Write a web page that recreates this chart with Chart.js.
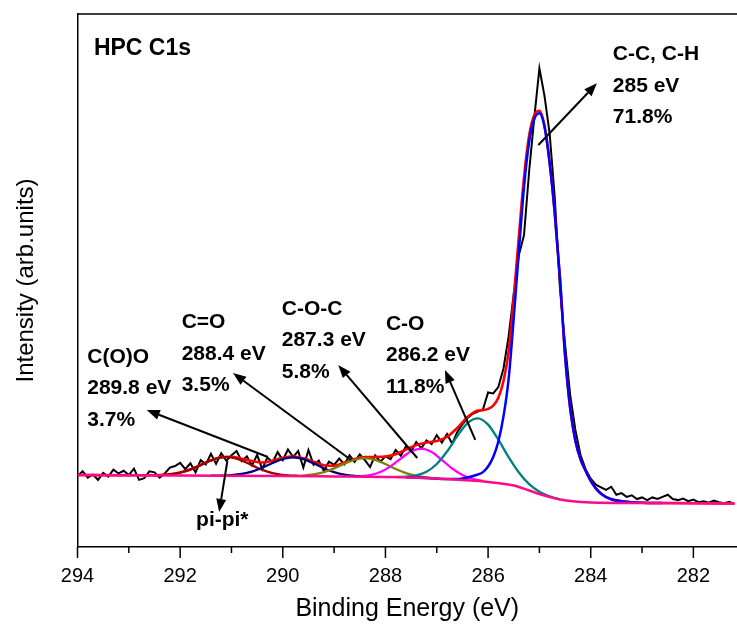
<!DOCTYPE html>
<html>
<head>
<meta charset="utf-8">
<script src="https://cdn.jsdelivr.net/npm/chart.js@4.4.1/dist/chart.umd.min.js"></script>
<style>
  html, body { margin: 0; padding: 0; background: #fff; overflow: hidden; }
  canvas { display: block; }
</style>
</head>
<body>
<canvas id="xps" width="737" height="626"></canvas>
<script>
// raw C1s spectrum (binding energy in eV, intensity in arb. units)
const rawEnergy = [
  294.0, 293.9, 293.8, 293.7, 293.6, 293.5, 293.4, 293.3, 293.2, 293.1,
  293.0, 292.9, 292.8, 292.7, 292.6, 292.5, 292.4, 292.3, 292.2, 292.1,
  292.0, 291.9, 291.8, 291.7, 291.6, 291.5, 291.4, 291.3, 291.2, 291.1,
  291.0, 290.9, 290.8, 290.7, 290.6, 290.5, 290.4, 290.3, 290.2, 290.1,
  290.0, 289.9, 289.8, 289.7, 289.6, 289.5, 289.4, 289.3, 289.2, 289.1,
  289.0, 288.9, 288.8, 288.7, 288.6, 288.5, 288.4, 288.3, 288.2, 288.1,
  288.0, 287.9, 287.8, 287.7, 287.6, 287.5, 287.4, 287.3, 287.2, 287.1,
  287.0, 286.9, 286.8, 286.7, 286.6, 286.5, 286.4, 286.3, 286.2, 286.1,
  286.0, 285.9, 285.8, 285.7, 285.6, 285.5, 285.4, 285.3, 285.2, 285.1,
  285.0, 284.9, 284.8, 284.7, 284.6, 284.5, 284.4, 284.3, 284.2, 284.1,
  284.0, 283.9, 283.8, 283.7, 283.6, 283.5, 283.4, 283.3, 283.2, 283.1,
  283.0, 282.9, 282.8, 282.7, 282.6, 282.5, 282.4, 282.3, 282.2, 282.1,
  282.0, 281.9, 281.8, 281.7, 281.6, 281.5, 281.4, 281.3, 281.2
];
const rawIntensity = [
  13.3, 14.2, 13.0, 13.6, 12.6, 13.9, 13.2, 14.5, 13.8, 14.3,
  13.5, 14.7, 12.6, 12.9, 14.2, 14.0, 13.0, 13.8, 14.9, 15.2,
  15.8, 14.6, 15.7, 14.0, 16.3, 15.5, 17.5, 15.6, 17.6, 16.2,
  17.2, 18.0, 16.1, 17.0, 15.3, 17.3, 14.6, 16.8, 15.9, 17.8,
  16.3, 18.3, 16.9, 18.0, 14.9, 18.2, 15.4, 16.2, 14.3, 16.0,
  15.4, 16.6, 15.5, 17.2, 16.0, 17.4, 16.3, 15.0, 17.2, 16.0,
  17.0, 16.5, 18.2, 17.1, 18.9, 17.9, 19.7, 18.5, 20.0, 19.3,
  21.0, 19.6, 21.2, 19.4, 21.6, 23.0, 24.2, 25.0, 25.4, 25.8,
  29.0, 28.8, 30.0, 33.5, 39.5, 47.5, 54.8, 58.5, 70.5, 80.5,
  89.8, 84.6, 77.5, 65.5, 48.5, 38.0, 28.5, 22.0, 17.3, 14.6,
  12.8, 11.7, 11.2, 10.7, 11.3, 9.8, 10.1, 9.4, 9.7, 9.0,
  9.3, 8.8, 9.3, 9.0, 9.4, 9.8, 9.0, 8.8, 9.1, 8.6,
  8.9, 8.4, 8.6, 8.3, 8.7, 8.4, 8.2, 8.5, 8.1
];

// Shirley background
const bgEnergy = [294.0, 292.0, 290.0, 289.0, 288.0, 287.5, 287.0, 286.5, 286.0, 285.5, 285.2, 285.0, 284.8, 284.6, 284.4, 284.0, 283.0, 281.2];
const bgIntensity = [13.51, 13.41, 13.32, 13.23, 13.13, 13.04, 12.85, 12.57, 12.2, 11.54, 10.6, 9.94, 9.38, 8.91, 8.63, 8.35, 8.26, 8.16];

// fitted envelope
const envEnergy = [
  294.0, 293.0, 292.6, 292.4, 292.2, 292.0, 291.8, 291.6, 291.4, 291.2,
  291.0, 290.8, 290.6, 290.4, 290.2, 290.0, 289.8, 289.6, 289.4, 289.2,
  289.0, 288.8, 288.6, 288.4, 288.2, 288.0, 287.8, 287.6, 287.4, 287.2,
  287.0, 286.8, 286.6, 286.4, 286.2, 286.1, 286.0, 285.9, 285.8, 285.7,
  285.6, 285.5, 285.4, 285.3, 285.2, 285.1, 285.0, 284.9, 284.8, 284.7,
  284.6, 284.5, 284.4, 284.3, 284.2, 284.1, 284.0, 283.9, 283.8, 283.6,
  283.4, 283.2, 283.0, 282.6, 282.0, 281.2
];
const envIntensity = [
  13.51, 13.46, 13.45, 13.5, 13.64, 13.96, 14.55, 15.38, 16.26, 16.85,
  16.93, 16.56, 16.13, 15.85, 16.2, 16.73, 16.95, 16.63, 16.0, 15.35,
  15.25, 15.85, 16.5, 16.88, 16.89, 16.98, 17.42, 18.28, 19.14, 19.59,
  19.9, 20.66, 22.34, 24.39, 25.59, 25.68, 25.91, 26.51, 27.98, 31.16,
  36.67, 46.84, 58.23, 69.34, 77.19, 81.04, 81.84, 79.05, 72.13, 62.57,
  50.54, 36.0, 26.0, 20.0, 16.5, 14.3, 12.4, 11.0, 10.0, 8.95,
  8.6, 8.4, 8.3, 8.25, 8.2, 8.16
];

// components
const piEnergy = [292.5, 292.3, 292.1, 291.9, 291.7, 291.5, 291.3, 291.1, 290.9, 290.7, 290.5, 290.3, 290.1, 289.9, 289.7];
const piIntensity = [13.45, 13.54, 13.75, 14.22, 14.93, 15.83, 16.59, 16.9, 16.57, 15.8, 14.88, 14.15, 13.68, 13.45, 13.35];

const coooEnergy = [291.4, 291.2, 291.0, 290.8, 290.6, 290.4, 290.2, 290.0, 289.8, 289.6, 289.4, 289.2, 289.0, 288.8, 288.6, 288.4];
const coooIntensity = [13.38, 13.41, 13.5, 13.71, 14.16, 14.87, 15.76, 16.51, 16.8, 16.47, 15.7, 14.78, 14.04, 13.56, 13.32, 13.21];

const coEnergy2 = [289.8, 289.6, 289.4, 289.2, 289.0, 288.8, 288.6, 288.4, 288.2, 288.0, 287.8, 287.6, 287.4, 287.2, 287.0];
const coIntensity2 = [13.34, 13.41, 13.62, 14.06, 14.76, 15.64, 16.38, 16.67, 16.34, 15.56, 14.63, 13.87, 13.35, 13.05, 12.89];

const cocEnergy = [288.5, 288.3, 288.1, 287.9, 287.7, 287.5, 287.3, 287.1, 286.9, 286.7, 286.5, 286.3, 286.1];
const cocIntensity = [13.25, 13.49, 14.07, 15.13, 16.59, 17.96, 18.47, 17.82, 16.33, 14.73, 13.51, 12.77, 12.37];

const coEnergy = [287.8, 287.6, 287.4, 287.2, 287.0, 286.8, 286.6, 286.4, 286.2, 286.0, 285.8, 285.6, 285.4, 285.2, 285.0, 284.8, 284.6];
const coIntensity = [13.14, 13.19, 13.44, 14.11, 15.58, 17.91, 20.81, 23.26, 24.15, 22.96, 20.13, 16.87, 13.98, 11.79, 10.38, 9.51, 8.95];

const ccEnergy = [
  287.6, 287.2, 286.8, 286.6, 286.4, 286.2, 286.1, 286.0, 285.9, 285.8,
  285.7, 285.6, 285.5, 285.4, 285.3, 285.2, 285.1, 285.0, 284.9, 284.8,
  284.7, 284.6, 284.5, 284.4, 284.3, 284.2, 284.1, 284.0, 283.9, 283.8,
  283.6, 283.4, 283.2, 283.0, 282.6
];
const ccIntensity = [
  13.1, 12.95, 12.76, 12.75, 13.05, 13.6, 14.05, 15.1, 16.9, 19.8,
  24.5, 31.5, 43.0, 55.5, 67.5, 76.0, 80.3, 81.4, 78.8, 72.0,
  62.5, 50.5, 36.0, 26.0, 20.0, 16.5, 14.3, 12.4, 11.0, 10.0,
  8.95, 8.6, 8.4, 8.3, 8.25
];

// x axis
const xMin = 281.15;
const xMax = 294;

// peak labels (anchor in data units, first line)
const labelLines = [
  ["HPC C1s"],
  ["C(O)O", "289.8 eV", "3.7%"],
  ["C=O", "288.4 eV", "3.5%"],
  ["C-O-C", "287.3 eV", "5.8%"],
  ["C-O", "286.2 eV", "11.8%"],
  ["C-C, C-H", "285 eV", "71.8%"],
  ["pi-pi*"]
];
const labelEnergy = [293.68, 293.81, 291.97, 290.02, 287.99, 283.57, 291.69];
const labelIntensity = [93.49, 35.65, 42.12, 44.65, 41.84, 92.4, 5.07];

// arrows from peak to label
const arrowFromE = [285.02, 290.29, 288.67, 287.38, 286.25, 291.08];
const arrowFromI = [75.42, 16.89, 16.32, 16.7, 20.08, 16.14];
const arrowToE = [283.88, 292.65, 290.97, 288.92, 286.84, 291.24];
const arrowToI = [87.0, 25.7, 32.65, 34.15, 33.2, 6.57];

const FONT = "'Liberation Sans', Arial, sans-serif";

function pts(xs, ys) {
  return xs.map((x, i) => ({x: x, y: ys[i]}));
}

function curve(label, xs, ys, color, order, width) {
  return {
    label: label,
    data: pts(xs, ys),
    borderColor: color,
    borderWidth: width,
    pointRadius: 0,
    fill: false,
    cubicInterpolationMode: 'monotone',
    order: order
  };
}

const decor = {
  id: 'decor',
  afterDraw(chart) {
    const ctx = chart.ctx;
    const xs = chart.scales.x;
    const ys = chart.scales.y;
    const a = chart.chartArea;
    ctx.save();
    ctx.strokeStyle = '#000';
    ctx.fillStyle = '#000';
    ctx.lineWidth = 1.5;

    // top of the frame
    ctx.beginPath();
    ctx.moveTo(a.left, a.top);
    ctx.lineTo(a.right, a.top);
    ctx.stroke();

    // major / minor tick marks
    xs.ticks.forEach(t => {
      const px = xs.getPixelForValue(t.value);
      const len = t.value % 2 === 0 ? 11 : 6;
      ctx.beginPath();
      ctx.moveTo(px, a.bottom);
      ctx.lineTo(px, a.bottom + len);
      ctx.stroke();
    });

    // arrows
    ctx.lineWidth = 2;
    for (let i = 0; i < arrowFromE.length; i++) {
      const x0 = xs.getPixelForValue(arrowFromE[i]);
      const y0 = ys.getPixelForValue(arrowFromI[i]);
      const x1 = xs.getPixelForValue(arrowToE[i]);
      const y1 = ys.getPixelForValue(arrowToI[i]);
      const ang = Math.atan2(y1 - y0, x1 - x0);
      const hl = 13, hw = 5;
      const bx = x1 - hl * Math.cos(ang);
      const by = y1 - hl * Math.sin(ang);
      ctx.beginPath();
      ctx.moveTo(x0, y0);
      ctx.lineTo(bx, by);
      ctx.stroke();
      ctx.beginPath();
      ctx.moveTo(x1, y1);
      ctx.lineTo(bx + hw * Math.sin(ang), by - hw * Math.cos(ang));
      ctx.lineTo(bx - hw * Math.sin(ang), by + hw * Math.cos(ang));
      ctx.closePath();
      ctx.fill();
    }

    // labels
    ctx.textAlign = 'left';
    ctx.textBaseline = 'middle';
    for (let i = 0; i < labelLines.length; i++) {
      const px = xs.getPixelForValue(labelEnergy[i]);
      const py = ys.getPixelForValue(labelIntensity[i]);
      const size = i === 0 ? 23 : 21;
      ctx.font = 'bold ' + size + 'px ' + FONT;
      labelLines[i].forEach((line, j) => {
        ctx.fillText(line, px, py + j * 31.5);
      });
    }
    ctx.restore();
  }
};

const ctx = document.getElementById('xps').getContext('2d');

new Chart(ctx, {
  type: 'line',
  data: {
    datasets: [
      curve('Background', bgEnergy, bgIntensity, '#ff0a8c', 0, 2.5),
      curve('C-C, C-H', ccEnergy, ccIntensity, '#0000ff', 1, 2.5),
      curve('C-O', coEnergy, coIntensity, '#008080', 1, 2.3),
      curve('C-O-C', cocEnergy, cocIntensity, '#ff00ff', 1, 2.3),
      curve('C=O', coEnergy2, coIntensity2, '#808000', 1, 2.3),
      curve('C(O)O', coooEnergy, coooIntensity, '#000080', 1, 2.3),
      curve('pi-pi*', piEnergy, piIntensity, '#990000', 1, 2.3),
      curve('Envelope', envEnergy, envIntensity, '#ff0000', 2, 2.6),
      {
        label: 'Raw',
        data: pts(rawEnergy, rawIntensity),
        borderColor: '#000',
        borderWidth: 2,
        pointRadius: 0,
        fill: false,
        tension: 0,
        order: 3
      }
    ]
  },
  options: {
    responsive: false,
    animation: false,
    layout: {padding: {top: 14, right: 0, left: 0, bottom: 0}},
    plugins: {
      legend: {display: false},
      tooltip: {enabled: false}
    },
    scales: {
      x: {
        type: 'linear',
        reverse: true,
        min: xMin,
        max: xMax,
        // tick marks are drawn by the decor plugin; the grid only reserves room
        grid: {display: true, drawOnChartArea: false, drawTicks: true, tickLength: 17, tickColor: 'rgba(0,0,0,0)'},
        border: {display: true, color: '#000', width: 1.5},
        ticks: {
          stepSize: 1,
          includeBounds: false,
          autoSkip: false,
          maxRotation: 0,
          padding: 0,
          color: '#000',
          font: {family: FONT, size: 20},
          callback: v => (v % 2 === 0 ? String(v) : '')
        },
        title: {
          display: true,
          text: 'Binding Energy (eV)',
          color: '#000',
          font: {family: FONT, size: 25},
          padding: {top: 0, bottom: 2}
        },
        afterFit: s => { s.height = 79; }
      },
      y: {
        min: 0,
        max: 100,
        grid: {display: false},
        border: {display: true, color: '#000', width: 1.5},
        ticks: {display: false},
        title: {
          display: true,
          text: 'Intensity (arb.units)',
          color: '#000',
          font: {family: FONT, size: 24},
          padding: {top: 12, bottom: 0}
        },
        afterFit: s => { s.width = 77.5; }
      }
    }
  },
  plugins: [decor]
});
</script>
</body>
</html>
